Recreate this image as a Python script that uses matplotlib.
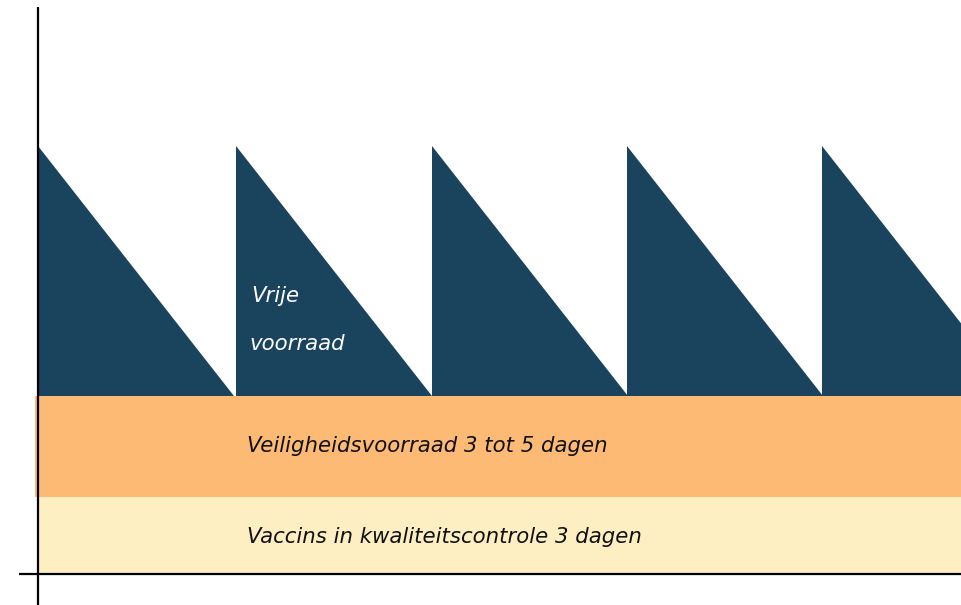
import matplotlib
matplotlib.use("Agg")
import matplotlib.pyplot as plt

# ── Data (horizontal: time, vertical: stock level) ───────────────────────────
peak_x      = [0, 198, 394, 589, 784]   # delivery moments
cycle_len   = 196
x_end       = 923
qc_top      = 77     # vaccins in kwaliteitscontrole
safety_top  = 178    # veiligheidsvoorraad
peak_level  = 428    # level right after delivery

labels = {
    "free":   ["Vrije", "voorraad"],
    "safety": "Veiligheidsvoorraad 3 tot 5 dagen",
    "qc":     "Vaccins in kwaliteitscontrole 3 dagen",
}

DARK   = "#1A435E"
ORANGE = "#FDBA75"
YELLOW = "#FEEFC3"

fig = plt.figure(figsize=(9.61, 6.05), dpi=100)
ax = fig.add_axes([0, 0, 1, 1])
ax.set_xlim(-38, x_end)
ax.set_ylim(-31, 574)
ax.axis("off")

# bands
ax.fill_between([0, x_end], 0, qc_top, color=YELLOW, lw=0)
ax.fill_between([-3, x_end], qc_top, safety_top, color=ORANGE, lw=0)

# sawtooth of free stock
for p in peak_x:
    xs = [p, p, p + cycle_len]
    ys = [safety_top, peak_level, safety_top]
    ax.fill(xs, ys, color=DARK, lw=0, clip_on=True)
ax.set_xlim(-38, x_end)

# axes lines
ax.plot([0, 0], [-31, 567], color="black", lw=1.6, solid_capstyle="butt")
ax.plot([-19, x_end], [0, 0], color="black", lw=1.6, solid_capstyle="butt")

# texts
font = dict(fontsize=15.3, style="italic", family="DejaVu Sans", va="baseline")
ax.text(213, 272, labels["free"][0], color="white", **font)
ax.text(211, 224, labels["free"][1], color="white", **font)
ax.text(209, 122, labels["safety"], color="#111111", **font)
ax.text(209, 31, labels["qc"], color="#111111", **font)

plt.savefig("out.png", dpi=100)
